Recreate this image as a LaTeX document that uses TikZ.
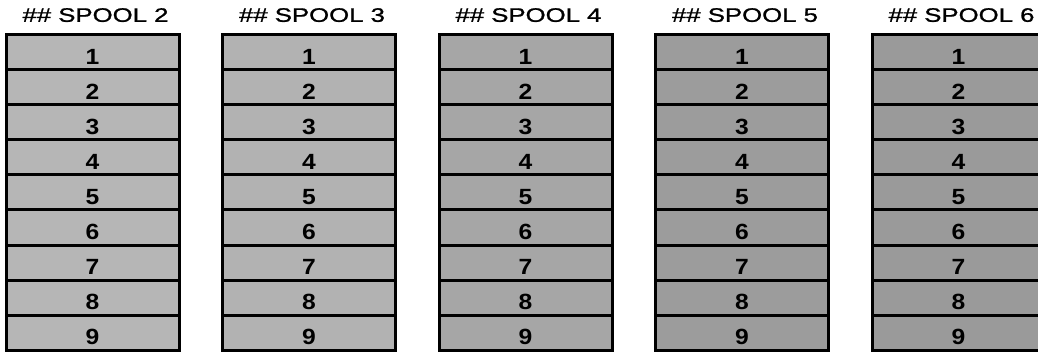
\documentclass[tikz,border=0pt]{standalone}
\usepackage{fontspec}
\setmainfont{Liberation Sans}
\newfontfamily\titlefont[FakeStretch=1.32, FakeBold=1.2]{Liberation Sans}
\newfontfamily\digitfont[FakeStretch=1.12]{Liberation Sans Bold}
\usetikzlibrary{positioning}
\definecolor{spoolgrayA}{RGB}{182, 182, 182}
\definecolor{spoolgrayB}{RGB}{178, 178, 178}
\definecolor{spoolgrayC}{RGB}{166, 166, 166}
\definecolor{spoolgrayD}{RGB}{156, 156, 156}
\definecolor{spoolgrayE}{RGB}{154, 154, 154}

\begin{document}
\begin{tikzpicture}[
  x=1pt, y=1pt,
  cell/.style={draw, line width=3pt, minimum width=173pt, minimum height=35pt,
    inner sep=0pt, text height=24pt, text depth=0pt,
    font=\digitfont\fontsize{22}{22}\selectfont},
  spooltitle/.style={inner sep=0pt, text depth=0pt,
    font=\titlefont\fontsize{19.5}{19.5}\selectfont}
]
\useasboundingbox (0,0) rectangle (1038,351);

% Spool columns, nine slots each
\foreach \s/\col [count=\i from 0] in {2/spoolgrayA, 3/spoolgrayB, 4/spoolgrayC, 5/spoolgrayD, 6/spoolgrayE} {
  \foreach \r in {1,...,9}
    \node[cell, fill=\col] (s\s r\r) at ({92.5+216.5*\i}, {298.5-35*(\r-1)}) {\r};
  % Column heading
  \node[spooltitle, above=11.5pt of s\s r1, xshift=3pt] (t\s) {\#\# SPOOL \s};
}

\end{tikzpicture}
\end{document}
